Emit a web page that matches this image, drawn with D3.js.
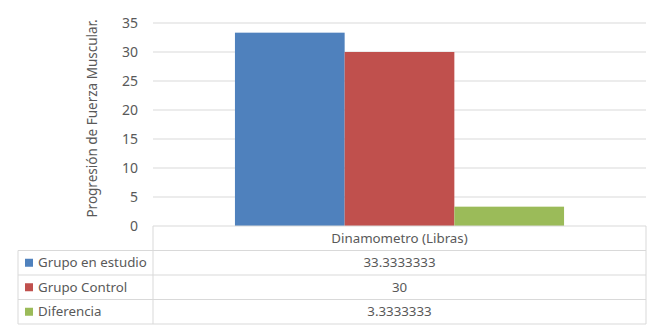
<!DOCTYPE html>
<html>
<head>
<meta charset="utf-8">
<script src="https://cdnjs.cloudflare.com/ajax/libs/d3/7.8.5/d3.min.js"></script>
<style>
  body { margin: 0; background: #fff; }
  svg { display: block; font-family: "Noto Sans", "Liberation Sans", sans-serif; }
</style>
</head>
<body>
<div id="chart"></div>
<script>
// Chart data
const categories = ["Dinamometro (Libras)"];
const seriesNames = ["Grupo en estudio", "Grupo Control", "Diferencia"];
const seriesValues = [33.3333333, 30, 3.3333333];
const seriesLabels = ["33.3333333", "30", "3.3333333"];
const seriesColors = ["#4F81BD", "#C0504D", "#9BBB59"];
const yTicks = [0, 5, 10, 15, 20, 25, 30, 35];

const width = 655, height = 325;
const plot = { left: 153, right: 646, top: 23, bottom: 226 };
const tableLeft = 18;
const rowH = 24.5;
const textColor = "#595959";
const lineColor = "#D9D9D9";

const svg = d3.select("#chart").append("svg")
    .attr("width", width)
    .attr("height", height);

const y = d3.scaleLinear()
    .domain([0, 35])
    .range([plot.bottom, plot.top]);

const x0 = d3.scaleBand()
    .domain(categories)
    .range([plot.left, plot.right])
    .paddingOuter(0.249);

const x1 = d3.scaleBand()
    .domain(seriesNames)
    .range([0, x0.bandwidth()]);

// Gridlines
svg.append("g")
    .selectAll("line")
    .data(yTicks.filter(d => d > 0))
    .enter()
    .append("line")
    .attr("x1", plot.left)
    .attr("x2", plot.right)
    .attr("y1", d => y(d))
    .attr("y2", d => y(d))
    .attr("stroke", lineColor)
    .attr("stroke-width", 1);

// Y axis tick labels
const yAxis = svg.append("g")
    .attr("transform", `translate(${plot.left - 15},0)`)
    .call(d3.axisLeft(y).tickValues(yTicks).tickSize(0).tickPadding(0));
yAxis.select(".domain").remove();
yAxis.selectAll("text")
    .attr("fill", textColor)
    .style("font-size", "14px")
    .style("font-family", "'Noto Sans', sans-serif");

// Y axis title
svg.append("text")
    .attr("transform", `translate(97,${(plot.top + plot.bottom) / 2 - 6}) rotate(-90)`)
    .attr("text-anchor", "middle")
    .attr("fill", textColor)
    .style("font-size", "13.5px")
    .text("Progresión de Fuerza Muscular.");

// Bars
const groups = svg.append("g")
    .selectAll("g")
    .data(categories)
    .enter()
    .append("g")
    .attr("transform", d => `translate(${x0(d)},0)`);

groups.selectAll("rect")
    .data((d, i) => seriesNames.map((s, j) => ({ key: s, value: seriesValues[j], color: seriesColors[j] })))
    .enter()
    .append("rect")
    .attr("x", d => x1(d.key))
    .attr("y", d => y(d.value))
    .attr("width", x1.bandwidth())
    .attr("height", d => y(0) - y(d.value))
    .attr("fill", d => d.color);

// Data table
const table = svg.append("g");
const tTop = plot.bottom;
const tBottom = tTop + rowH * 4;

// horizontal lines
table.append("line")
    .attr("x1", plot.left).attr("x2", plot.right)
    .attr("y1", tTop).attr("y2", tTop)
    .attr("stroke", lineColor);
for (let r = 1; r <= 4; r++) {
    table.append("line")
        .attr("x1", tableLeft).attr("x2", plot.right)
        .attr("y1", tTop + rowH * r).attr("y2", tTop + rowH * r)
        .attr("stroke", lineColor);
}
// vertical lines
table.append("line")
    .attr("x1", tableLeft).attr("x2", tableLeft)
    .attr("y1", tTop + rowH).attr("y2", tBottom)
    .attr("stroke", lineColor);
table.append("line")
    .attr("x1", plot.left).attr("x2", plot.left)
    .attr("y1", tTop).attr("y2", tBottom)
    .attr("stroke", lineColor);
table.append("line")
    .attr("x1", plot.right).attr("x2", plot.right)
    .attr("y1", tTop).attr("y2", tBottom)
    .attr("stroke", lineColor);

// header
table.selectAll(".cat")
    .data(categories)
    .enter()
    .append("text")
    .attr("x", d => x0(d) + x0.bandwidth() / 2)
    .attr("y", tTop + rowH / 2)
    .attr("dy", "0.35em")
    .attr("text-anchor", "middle")
    .attr("fill", textColor)
    .style("font-size", "13.3px")
    .text(d => d);

// rows
seriesNames.forEach((s, i) => {
    const cy = tTop + rowH * (i + 1.5);
    table.append("rect")
        .attr("x", 25).attr("y", cy - 4)
        .attr("width", 8).attr("height", 8)
        .attr("fill", seriesColors[i]);
    table.append("text")
        .attr("x", 38).attr("y", cy)
        .attr("dy", "0.35em")
        .attr("fill", textColor)
        .style("font-size", "13.3px")
        .text(s);
    table.append("text")
        .attr("x", (plot.left + plot.right) / 2)
        .attr("y", cy)
        .attr("dy", "0.35em")
        .attr("text-anchor", "middle")
        .attr("fill", textColor)
        .style("font-size", "13.3px")
        .text(seriesLabels[i]);
});
</script>
</body>
</html>
